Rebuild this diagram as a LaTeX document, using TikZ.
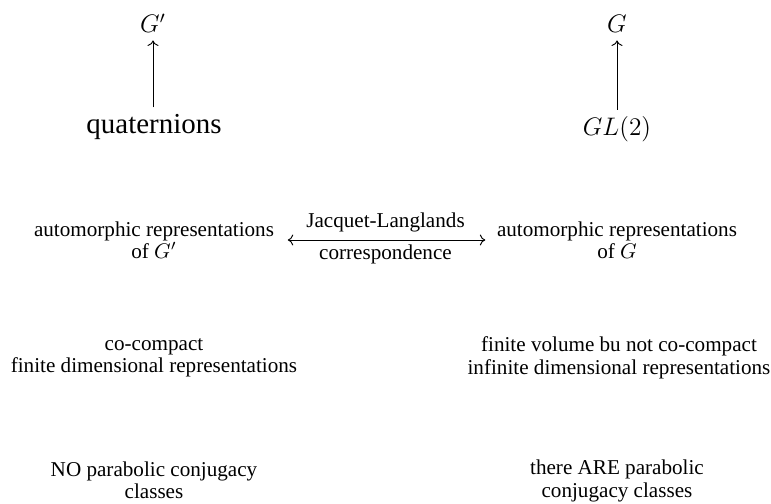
\documentclass[tikz,border=0pt]{standalone}
\usepackage[no-math]{fontspec}
\setmainfont{Liberation Serif}
\usetikzlibrary{arrows.meta}
\begin{document}
\begin{tikzpicture}[x=0.4733pt,y=-0.4733pt,
  lbl/.style={font=\fontsize{10}{10.6}\selectfont, align=center},
  big/.style={font=\fontsize{13.7}{16}\selectfont},
  grp/.style={font=\fontsize{12}{14}\selectfont},
  mat/.style={font=\fontsize{13}{15}\selectfont},
  ar/.style={-{Computer Modern Rightarrow[length=2.6pt,width=5.2pt]}, line width=0.45pt},
  dar/.style={{Computer Modern Rightarrow[length=2.6pt,width=5.2pt]}-{Computer Modern Rightarrow[length=2.6pt,width=5.2pt]}, line width=0.45pt, shorten <=3pt, shorten >=2pt}]
\useasboundingbox (0,0) rectangle (771,504);
% top row
\node[grp, anchor=base] (Gp) at (153,33) {$G'$};
\node[grp, anchor=base] (G) at (617,33) {$G$};
\node[big, anchor=base] (Q) at (154,134) {quaternions};
\node[mat, anchor=base] (GL) at (617,136) {$GL(2)$};
\draw[ar] (Q.north -| Gp.south) -- (Gp.south);
\draw[ar] (GL.north -| G.south) -- (G.south);
% automorphic representations
\node[lbl] (L2) at (154,240) {automorphic representations\\of $G'$};
\node[lbl] (R2) at (617,240) {automorphic representations\\of $G$};
\draw[dar] (L2) -- node[lbl,above] (JL) {Jacquet-Langlands}
  node[lbl,below,yshift=1.5pt] (JC) {correspondence} (R2);
% third row
\node[lbl] (L3) at (154,358) {co-compact\\finite dimensional representations};
\node[lbl] (R3) at (619,358) {finite volume bu not co-compact\\infinite dimensional representations};
% fourth row
\node[lbl] (L4) at (154,480) {NO parabolic conjugacy\\classes};
\node[lbl] (R4) at (617,481) {there ARE parabolic\\conjugacy classes};
\end{tikzpicture}
\end{document}
